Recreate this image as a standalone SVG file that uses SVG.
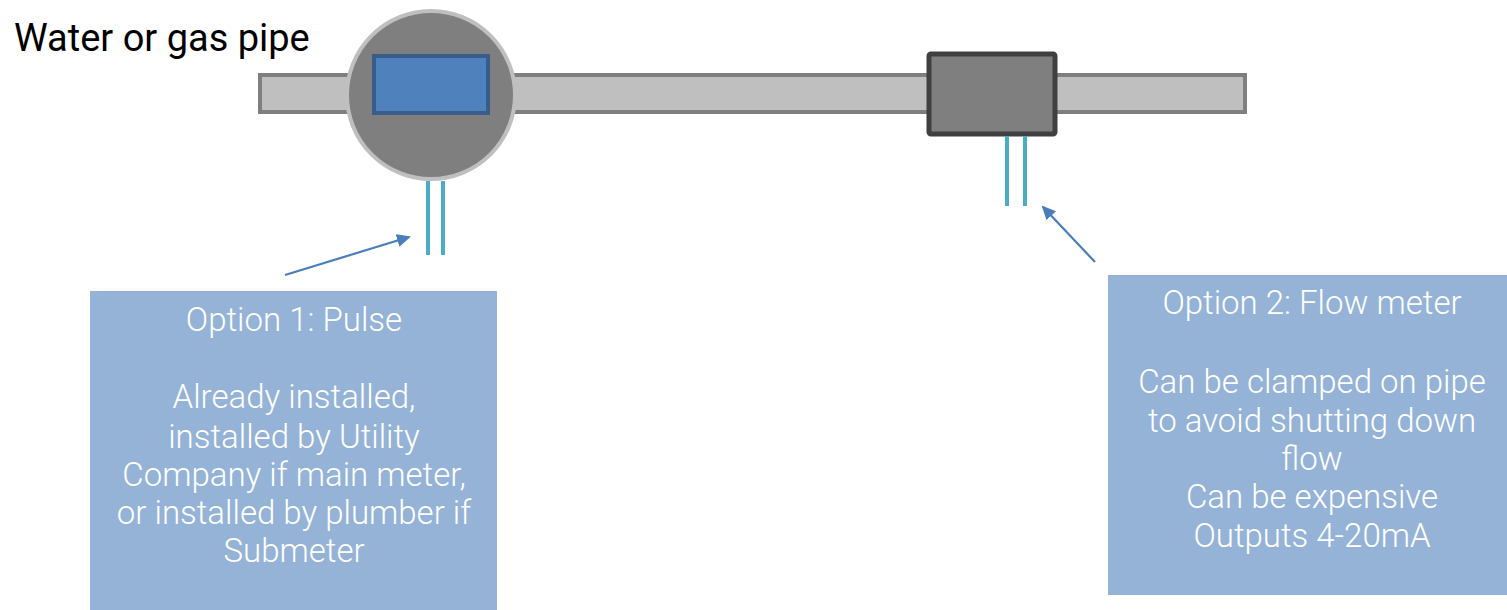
<svg xmlns="http://www.w3.org/2000/svg" width="1507" height="610" viewBox="0 0 1507 610">
<style>
.lbl{font-family:Roboto,"Liberation Sans",sans-serif;font-size:33px;fill:#ffffff;text-anchor:middle;font-weight:300}
.wire{stroke:#4bacc6;stroke-width:4;fill:none}
.conn{stroke:#4a7ebb;stroke-width:2.2;fill:none}
</style>
<defs>
<marker id="ah" markerWidth="14" markerHeight="13" refX="12" refY="6.5" orient="auto" markerUnits="userSpaceOnUse" viewBox="0 0 14 13">
<path d="M0,0 L14,6.5 L0,13 Z" fill="#4a7ebb"/>
</marker>
</defs>
<rect width="1507" height="610" fill="#ffffff"/>
<g id="title"><text x="14" y="51" font-family="Roboto,'Liberation Sans',sans-serif" font-size="38" fill="#000000">Water or gas pipe</text></g>
<g id="pipe"><rect x="260" y="75" width="985" height="37" fill="#bfbfbf" stroke="#7f7f7f" stroke-width="4"/></g>
<g id="pulse-meter">
<circle cx="431" cy="95" r="84" fill="#7f7f7f" stroke="#bfbfbf" stroke-width="4"/>
<rect x="374" y="56" width="114" height="57" fill="#4f81bd" stroke="#385d8a" stroke-width="4"/>
<line class="wire" x1="428" y1="181" x2="428" y2="255"/>
<line class="wire" x1="443" y1="181" x2="443" y2="255"/>
</g>
<g id="flow-meter">
<rect x="929" y="54" width="126" height="80" rx="2" fill="#7f7f7f" stroke="#404040" stroke-width="5"/>
<line class="wire" x1="1007" y1="136" x2="1007" y2="206"/>
<line class="wire" x1="1025" y1="136" x2="1025" y2="206"/>
</g>
<g id="connectors">
<line class="conn" x1="285" y1="275" x2="409" y2="237" marker-end="url(#ah)"/>
<line class="conn" x1="1095" y1="262" x2="1043" y2="207" marker-end="url(#ah)"/>
</g>
<g id="option1">
<rect x="90" y="291" width="407" height="319" fill="#95b3d7"/>
<text class="lbl" x="294" y="331">Option 1: Pulse</text>
<text class="lbl" x="294" y="408">Already installed,</text>
<text class="lbl" x="294" y="448">installed by Utility</text>
<text class="lbl" x="294" y="486">Company if main meter,</text>
<text class="lbl" x="294" y="524">or installed by plumber if</text>
<text class="lbl" x="294" y="562">Submeter</text>
</g>
<g id="option2">
<rect x="1108" y="275" width="399" height="320" fill="#95b3d7"/>
<text class="lbl" x="1312" y="314">Option 2: Flow meter</text>
<text class="lbl" x="1312" y="393">Can be clamped on pipe</text>
<text class="lbl" x="1312" y="432">to avoid shutting down</text>
<text class="lbl" x="1312" y="470">flow</text>
<text class="lbl" x="1312" y="508">Can be expensive</text>
<text class="lbl" x="1312" y="547">Outputs 4-20mA</text>
</g>
</svg>
